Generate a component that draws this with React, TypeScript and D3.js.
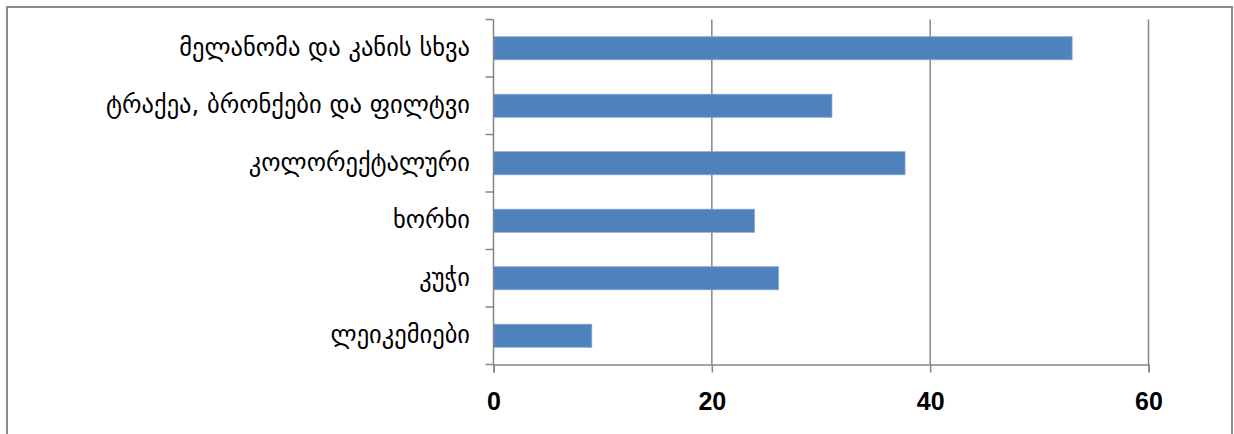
import * as d3 from "d3";
import { useEffect, useRef } from "react";

// categories from top to bottom
const categories = [
  "მელანომა და კანის სხვა",
  "ტრაქეა, ბრონქები და ფილტვი",
  "კოლორექტალური",
  "ხორხი",
  "კუჭი",
  "ლეიკემიები",
];
const values = [53, 31, 37.7, 23.9, 26.1, 9];
const xTicks = [0, 20, 40, 60];

const W = 1234;
const H = 434;

const App = () => {
  const ref = useRef<SVGSVGElement>(null);

  useEffect(() => {
    const svg = d3.select(ref.current);
    svg.selectAll("*").remove();

    const left = 493.5;
    const right = 1148.5;
    const top = 19.5;
    const bottom = 364.5;

    const x = d3.scaleLinear().domain([0, 60]).range([left, right]);
    const y = d3
      .scaleBand()
      .domain(categories)
      .range([top, bottom])
      .paddingInner(0.6)
      .paddingOuter(0.3);

    // outer frame
    svg
      .append("rect")
      .attr("x", 7)
      .attr("y", 7)
      .attr("width", W - 9)
      .attr("height", H)
      .attr("fill", "white")
      .attr("stroke", "#8c8c8c")
      .attr("stroke-width", 2);

    // gridlines
    svg
      .append("g")
      .selectAll("line")
      .data(xTicks.slice(1))
      .enter()
      .append("line")
      .attr("x1", (d) => x(d))
      .attr("x2", (d) => x(d))
      .attr("y1", top)
      .attr("y2", bottom)
      .attr("stroke", "#868686")
      .attr("stroke-width", 1.5);

    // bars
    svg
      .append("g")
      .selectAll("rect")
      .data(values)
      .enter()
      .append("rect")
      .attr("x", x(0))
      .attr("y", (d, i) => y(categories[i])!)
      .attr("width", (d) => x(d) - x(0))
      .attr("height", y.bandwidth())
      .attr("fill", "#4f81bd")
      .attr("stroke", "#7fa3d0")
      .attr("stroke-width", 0.8);

    // x axis
    const xAxis = d3
      .axisBottom(x)
      .tickValues(xTicks)
      .tickSize(8)
      .tickPadding(20)
      .tickFormat(d3.format("d"));
    const gx = svg
      .append("g")
      .attr("transform", `translate(0, ${bottom})`)
      .call(xAxis);
    gx.select(".domain").attr("stroke", "#868686").attr("stroke-width", 1.5);
    gx.selectAll(".tick line").attr("stroke", "#868686").attr("stroke-width", 1.5);
    gx.selectAll(".tick text")
      .attr("fill", "#000")
      .style("font-family", "'Liberation Sans', Arial, sans-serif")
      .style("font-weight", "bold")
      .style("font-size", "25px");

    // y axis
    const yTickPos = d3.range(categories.length + 1).map(
      (i) => top + (i * (bottom - top)) / categories.length
    );
    const gy = svg.append("g");
    gy.append("line")
      .attr("x1", left)
      .attr("x2", left)
      .attr("y1", top)
      .attr("y2", bottom)
      .attr("stroke", "#868686")
      .attr("stroke-width", 1.5);
    gy.selectAll(".ytick")
      .data(yTickPos)
      .enter()
      .append("line")
      .attr("x1", left - 8)
      .attr("x2", left)
      .attr("y1", (d) => d)
      .attr("y2", (d) => d)
      .attr("stroke", "#868686")
      .attr("stroke-width", 1.5);
    gy.selectAll("text")
      .data(categories)
      .enter()
      .append("text")
      .attr("x", 470)
      .attr("y", (d) => y(d)! + y.bandwidth() / 2)
      .attr("dy", "0.3em")
      .attr("text-anchor", "end")
      .style("font-family", "'DejaVu Sans', sans-serif")
      .style("font-size", "24.5px")
      .attr("fill", "#000")
      .text((d) => d);
  }, []);

  return (
    <svg
      ref={ref}
      width={W}
      height={H}
      style={{ position: "absolute", left: 0, top: 0, display: "block" }}
    ></svg>
  );
};

export default App;
